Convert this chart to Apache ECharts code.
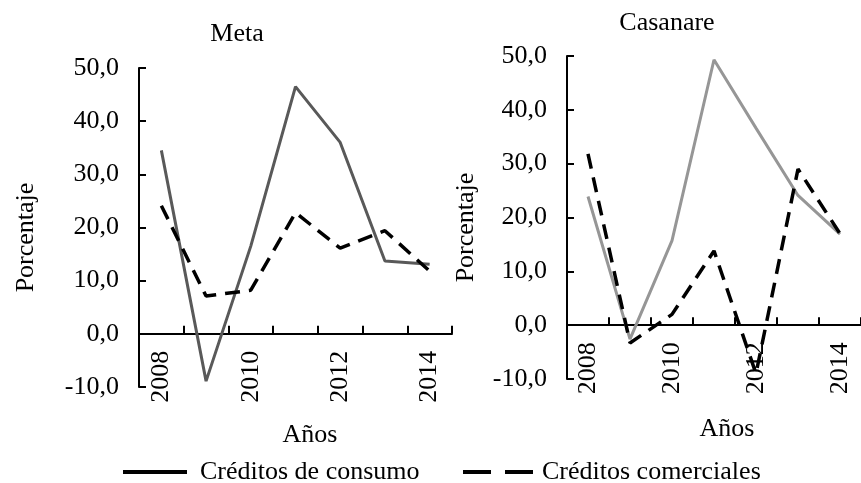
<!DOCTYPE html>
<html>
<head>
<meta charset="utf-8">
<script src="https://cdn.jsdelivr.net/npm/echarts@6/dist/echarts.min.js"></script>
<style>
  html,body{margin:0;padding:0;background:#fff;}
  #chart{width:861px;height:483px;}
</style>
</head>
<body>
<div id="chart"></div>
<script>
const years = ['2008','2009','2010','2011','2012','2013','2014'];
const metaConsumo = [34.5, -8.9, 16.5, 46.5, 36.0, 13.7, 13.1];
const metaComercial = [24.1, 7.1, 8.2, 22.8, 16.1, 19.4, 11.8];
const casConsumo = [23.9, -2.6, 15.7, 49.3, 36.6, 24.1, 16.9];
const casComercial = [31.8, -3.3, 2.0, 13.8, -9.0, 29.0, 17.0];
const yTicks = {min: -10, max: 50, interval: 10};

const FONT = 'Liberation Serif';
const FS = 26;
const fmt = v => v.toFixed(1).replace('.', ',');

// x axis sits on the zero line: shift it up by the -10..0 band (1/6 of grid height)
function xAxis(gridIndex, gridH){
  return {
    type:'category', gridIndex, data:years, boundaryGap:true,
    position:'bottom', offset:-gridH * (0 - yTicks.min) / (yTicks.max - yTicks.min),
    axisLine:{onZero:false, lineStyle:{color:'#000', width:2}},
    axisTick:{show:true, interval:0, inside:true, length:8, lineStyle:{color:'#000', width:2}},
    axisLabel:{rotate:90, interval:1, margin:17, color:'#000', fontFamily:FONT, fontSize:FS}
  };
}
function yAxis(gridIndex, gap){
  return {
    type:'value', gridIndex, min:yTicks.min, max:yTicks.max, interval:yTicks.interval,
    name:'Porcentaje', nameLocation:'middle', nameGap:gap,
    nameTextStyle:{color:'#000', fontFamily:FONT, fontSize:FS, padding:[0,20,0,0]},
    splitLine:{show:false},
    axisLine:{show:true, lineStyle:{color:'#000', width:2}},
    axisTick:{show:true, inside:true, length:7, lineStyle:{color:'#000', width:2}},
    axisLabel:{formatter:fmt, margin:20, color:'#000', fontFamily:FONT, fontSize:FS}
  };
}
function solid(name, data, idx, color){
  return {name, type:'line', xAxisIndex:idx, yAxisIndex:idx, data, symbol:'none',
    lineStyle:{color, width:3}, itemStyle:{color:'#000'}};
}
function dashed(name, data, idx){
  return {name, type:'line', xAxisIndex:idx, yAxisIndex:idx, data, symbol:'none',
    lineStyle:{color:'#000', width:3.5, type:[15,9]}, itemStyle:{color:'#000'}};
}

const txt = {color:'#000', fontFamily:FONT, fontSize:FS, fontWeight:'normal'};
const legTxt = {color:'#000', fontFamily:FONT, fontSize:FS, padding:[0,0,0,8]};
const chart = echarts.init(document.getElementById('chart'));
chart.setOption({
  animation:false,
  title:[
    {text:'Meta', left:232, top:16, textAlign:'center', textStyle:txt},
    {text:'Casanare', left:662, top:5, textAlign:'center', textStyle:txt},
    {text:'Años', left:305, top:417, textAlign:'center', textStyle:txt},
    {text:'Años', left:722, top:411, textAlign:'center', textStyle:txt}
  ],
  grid:[
    {left:139, top:68, width:313, height:319},
    {left:567, top:56, width:300, height:323}
  ],
  xAxis:[xAxis(0, 319), xAxis(1, 323)],
  yAxis:[yAxis(0, 100), yAxis(1, 88)],
  legend:[
    {data:[{name:'Créditos de consumo', icon:'rect'}], left:118, top:454, itemWidth:64, itemHeight:4,
     itemStyle:{color:'#000'}, textStyle:legTxt},
    {data:[{name:'Créditos comerciales', icon:'path://M0,0H28V4H0Z M42,0H70V4H42Z'}],
     left:458, top:454, itemWidth:70, itemHeight:4,
     itemStyle:{color:'#000'}, textStyle:Object.assign({}, legTxt, {padding:[0,0,0,4]})}
  ],
  series:[
    solid('Créditos de consumo', metaConsumo, 0, '#595959'),
    dashed('Créditos comerciales', metaComercial, 0),
    solid('Créditos de consumo', casConsumo, 1, '#969696'),
    dashed('Créditos comerciales', casComercial, 1)
  ]
});
</script>
</body>
</html>
